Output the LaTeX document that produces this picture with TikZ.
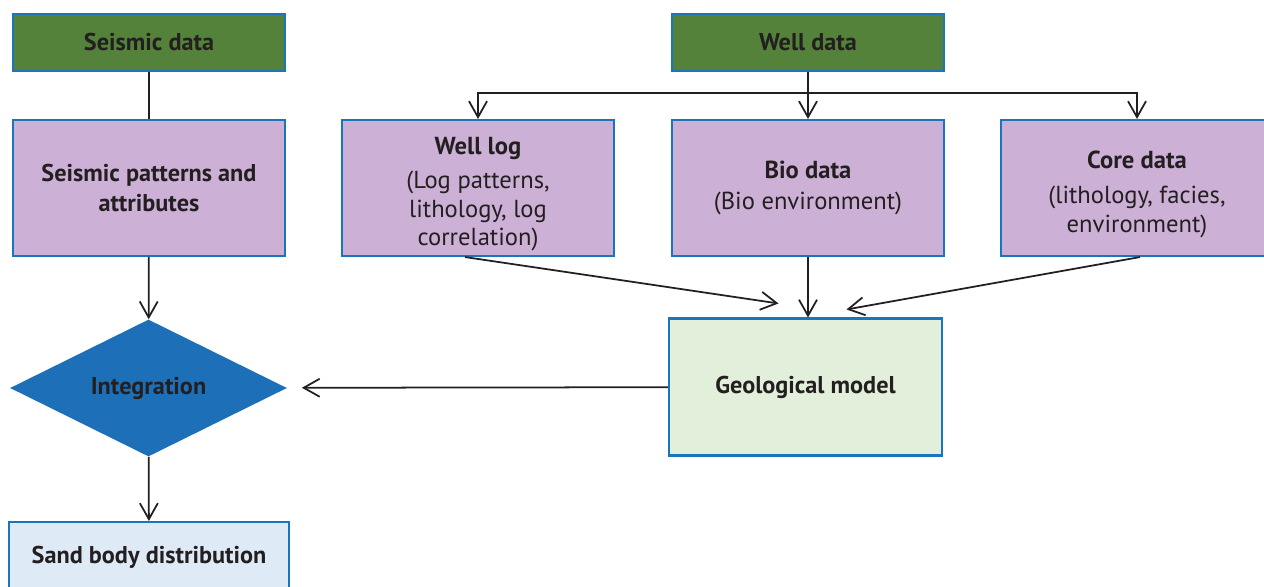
\documentclass[tikz,border=0pt]{standalone}
\usepackage{fontspec}
\setmainfont{PT Sans}
\usetikzlibrary{shapes.geometric,arrows.meta}

\definecolor{boxblue}{RGB}{27,117,188}
\definecolor{datagreen}{RGB}{84,130,58}
\definecolor{lilac}{RGB}{204,176,214}
\definecolor{palegreen}{RGB}{226,239,218}
\definecolor{paleblue}{RGB}{222,234,246}
\definecolor{diamondblue}{RGB}{29,112,184}
\definecolor{inkgray}{RGB}{35,31,32}

\newcommand{\topgap}{\rule{0pt}{17pt}}

\begin{document}
\begin{tikzpicture}[x=0.02cm, y=-0.02cm]
    % Node styles
    \tikzset{
      base box/.style={rectangle, draw=boxblue, line width=1.2pt, text=inkgray,
        align=center, font=\fontsize{14}{16.3}\selectfont, inner sep=2pt},
      source box/.style={base box, fill=datagreen, minimum width=5.44cm, minimum height=1.14cm, font=\fontsize{13.8}{16}\selectfont\bfseries},
      info box/.style={base box, fill=lilac, minimum width=5.44cm, minimum height=2.72cm},
      model box/.style={base box, fill=palegreen, minimum width=5.46cm, minimum height=2.74cm, font=\fontsize{13.8}{16}\selectfont\bfseries},
      result box/.style={base box, fill=paleblue, minimum width=5.6cm, minimum height=1.4cm, font=\fontsize{13.8}{16}\selectfont\bfseries},
      decision/.style={diamond, fill=diamondblue, text=inkgray, aspect=2.02, inner sep=0pt,
        minimum width=5.54cm, minimum height=2.74cm, font=\fontsize{13.8}{16}\selectfont\bfseries},
      link/.style={draw=inkgray, line width=1pt},
      arrow/.style={link, -{Straight Barb[length=3.2mm, width=3.6mm, line width=1pt]}}
    }
    \useasboundingbox (0,0) rectangle (1264,586);

    % --- Left column: seismic branch ---
    \node[source box] (seismic_data) at (149,42.5) {Seismic data};
    \node[info box, font=\fontsize{13.8}{17.6}\selectfont\bfseries] (seismic_patterns) at (149,188) {Seismic patterns and\\attributes};
    \node[decision] (integration) at (148.5,388) {Integration};
    \node[result box] (sand_body) at (149,557) {Sand body distribution};

    % --- Right part: well branch ---
    \node[source box] (well_data) at (808,42.5) {Well data};
    \node[info box] (well_log) at (478,188) {\topgap\textbf{Well log}\\[3pt](Log patterns,\\lithology, log\\correlation)};
    \node[info box] (bio_data) at (808,188) {\textbf{Bio data}\\[1pt](Bio environment)};
    \node[info box] (core_data) at (1137,188) {\topgap\textbf{Core data}\\[4pt](lithology, facies,\\environment)};
    \node[model box] (geo_model) at (805.5,387) {Geological model};

    % Edges of the seismic branch
    \draw[link] (seismic_data) -- (seismic_patterns);
    \draw[arrow] (seismic_patterns) -- (integration);
    \draw[arrow] (integration) -- (sand_body);

    % Edges from well data to its children
    \draw[arrow] (well_data.south) -- (well_data.south |- bio_data.north);
    \draw[arrow] (well_data.south) ++(0,21) -| (well_log.north);
    \draw[arrow] (well_data.south) ++(0,21) -| (core_data.north);

    % Edges into the geological model
    \draw[arrow] ([xshift=-0.26cm]well_log.south) -- ([xshift=-0.54cm, yshift=0.28cm]geo_model.north);
    \draw[arrow] (bio_data.south) -- (bio_data.south |- geo_model.north);
    \draw[arrow] ([xshift=0.06cm]core_data.south) -- ([xshift=0.82cm, yshift=0.16cm]geo_model.north);

    % --- Geological model feeds the integration ---
    \draw[arrow, shorten >=0.3cm] (geo_model) -- (integration);

  \end{tikzpicture}
\end{document}
